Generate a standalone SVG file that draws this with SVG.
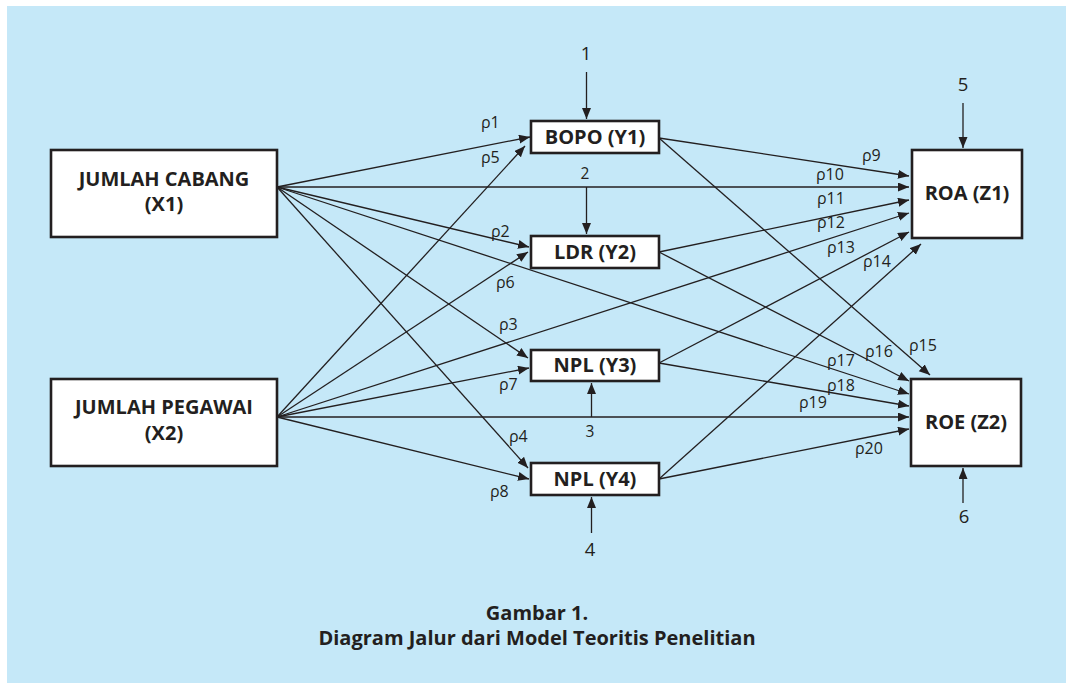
<svg xmlns="http://www.w3.org/2000/svg" width="1066" height="683" viewBox="0 0 1066 683">
  <style>
    .box { fill: #ffffff; stroke: #231f20; stroke-width: 2.6; }
    .name { font-family: "Open Sans", "Noto Sans", "Liberation Sans", sans-serif; font-weight: bold; font-size: 20px; fill: #231f20; text-anchor: middle; }
    .lbl { font-family: "Open Sans", "Noto Sans", "Liberation Sans", sans-serif; font-size: 16px; fill: #231f20; }
    .num { font-family: "Open Sans", "Noto Sans", "Liberation Sans", sans-serif; font-size: 15.5px; fill: #231f20; text-anchor: middle; }
    .num-lg { font-family: "Open Sans", "Noto Sans", "Liberation Sans", sans-serif; font-size: 18.5px; fill: #231f20; text-anchor: middle; }
    .cap { font-family: "Open Sans", "Noto Sans", "Liberation Sans", sans-serif; font-weight: bold; font-size: 20px; fill: #231f20; text-anchor: middle; }
    .edge { stroke: #231f20; stroke-width: 1.3; fill: none; marker-end: url(#head); }
  </style>
  <defs>
    <marker id="head" markerUnits="userSpaceOnUse" markerWidth="12" markerHeight="10" refX="11" refY="4.5" orient="auto">
      <path d="M0,0 L11,4.5 L0,9 z" fill="#231f20"/>
    </marker>
  </defs>

  <!-- panel background -->
  <rect x="7" y="6" width="1059" height="677" fill="#c5e8f8"/>

  <!-- connectors -->
  <g id="connectors">
    <!-- from JUMLAH CABANG (X1) -->
    <line class="edge" x1="277" y1="187" x2="530" y2="137"/>
    <line class="edge" x1="277" y1="187" x2="529" y2="247"/>
    <line class="edge" x1="277" y1="187" x2="528" y2="358"/>
    <line class="edge" x1="277" y1="187" x2="528" y2="468"/>
    <line class="edge" x1="277" y1="187" x2="909" y2="187"/>
    <line class="edge" x1="277" y1="187" x2="909" y2="394"/>
    <!-- from JUMLAH PEGAWAI (X2) -->
    <line class="edge" x1="277" y1="417" x2="525" y2="146"/>
    <line class="edge" x1="277" y1="417" x2="528" y2="252"/>
    <line class="edge" x1="277" y1="417" x2="529" y2="368"/>
    <line class="edge" x1="277" y1="417" x2="529" y2="479"/>
    <line class="edge" x1="277" y1="417" x2="909" y2="213"/>
    <line class="edge" x1="277" y1="417" x2="909" y2="417"/>
    <!-- from BOPO (Y1) -->
    <line class="edge" x1="659" y1="138" x2="909" y2="176"/>
    <line class="edge" x1="659" y1="138" x2="930" y2="375"/>
    <!-- from LDR (Y2) -->
    <line class="edge" x1="659" y1="252" x2="909" y2="200"/>
    <line class="edge" x1="659" y1="252" x2="909" y2="381"/>
    <!-- from NPL (Y3) -->
    <line class="edge" x1="659" y1="363" x2="909" y2="232"/>
    <line class="edge" x1="659" y1="363" x2="909" y2="406"/>
    <!-- from NPL (Y4) -->
    <line class="edge" x1="659" y1="479" x2="921" y2="244"/>
    <line class="edge" x1="659" y1="479" x2="909" y2="429"/>
    <!-- residual terms -->
    <line class="edge" x1="586.5" y1="72" x2="586.5" y2="119"/>
    <line class="edge" x1="586.5" y1="187" x2="586.5" y2="234"/>
    <line class="edge" x1="591.5" y1="417" x2="591.5" y2="383"/>
    <line class="edge" x1="591.5" y1="533" x2="591.5" y2="497"/>
    <line class="edge" x1="963" y1="103" x2="963" y2="148"/>
    <line class="edge" x1="963" y1="503" x2="963" y2="468"/>
  </g>

  <!-- path coefficient labels -->
  <g id="labels">
    <text class="lbl" x="481" y="128">ρ1</text>
    <text class="lbl" x="481" y="163">ρ5</text>
    <text class="lbl" x="491" y="237">ρ2</text>
    <text class="lbl" x="496" y="288">ρ6</text>
    <text class="lbl" x="499" y="330">ρ3</text>
    <text class="lbl" x="499" y="390">ρ7</text>
    <text class="lbl" x="509" y="442">ρ4</text>
    <text class="lbl" x="490" y="497">ρ8</text>
    <text class="lbl" x="862" y="161">ρ9</text>
    <text class="lbl" x="816" y="180">ρ10</text>
    <text class="lbl" x="817" y="204">ρ11</text>
    <text class="lbl" x="817" y="228">ρ12</text>
    <text class="lbl" x="827" y="253">ρ13</text>
    <text class="lbl" x="863" y="267">ρ14</text>
    <text class="lbl" x="909" y="351">ρ15</text>
    <text class="lbl" x="865" y="357">ρ16</text>
    <text class="lbl" x="827" y="366">ρ17</text>
    <text class="lbl" x="827" y="391">ρ18</text>
    <text class="lbl" x="799" y="408">ρ19</text>
    <text class="lbl" x="855" y="454">ρ20</text>
    <text class="num-lg" x="586" y="60">1</text>
    <text class="num" x="585" y="179">2</text>
    <text class="num" x="590" y="437">3</text>
    <text class="num-lg" x="590" y="556">4</text>
    <text class="num-lg" x="963" y="91">5</text>
    <text class="num-lg" x="964" y="523">6</text>
  </g>

  <!-- nodes -->
  <g id="x1">
    <rect class="box" x="51" y="150" width="226" height="87"/>
    <text class="name" x="164" y="186">JUMLAH CABANG</text>
    <text class="name" x="164" y="211">(X1)</text>
  </g>
  <g id="x2">
    <rect class="box" x="51" y="379" width="226" height="87"/>
    <text class="name" x="164" y="414">JUMLAH PEGAWAI</text>
    <text class="name" x="164" y="440">(X2)</text>
  </g>
  <g id="y1">
    <rect class="box" x="531" y="121" width="128" height="32"/>
    <text class="name" x="595" y="144">BOPO (Y1)</text>
  </g>
  <g id="y2">
    <rect class="box" x="531" y="236" width="128" height="32"/>
    <text class="name" x="595" y="259">LDR (Y2)</text>
  </g>
  <g id="y3">
    <rect class="box" x="531" y="350" width="128" height="31"/>
    <text class="name" x="595" y="372">NPL (Y3)</text>
  </g>
  <g id="y4">
    <rect class="box" x="531" y="463" width="128" height="32"/>
    <text class="name" x="595" y="486">NPL (Y4)</text>
  </g>
  <g id="z1">
    <rect class="box" x="912" y="150" width="110" height="88"/>
    <text class="name" x="967" y="200">ROA (Z1)</text>
  </g>
  <g id="z2">
    <rect class="box" x="911" y="379" width="110" height="87"/>
    <text class="name" x="966" y="429">ROE (Z2)</text>
  </g>

  <!-- caption -->
  <g id="caption">
    <text class="cap" x="537" y="620">Gambar 1.</text>
    <text class="cap" x="537" y="645">Diagram Jalur dari Model Teoritis Penelitian</text>
  </g>
</svg>
